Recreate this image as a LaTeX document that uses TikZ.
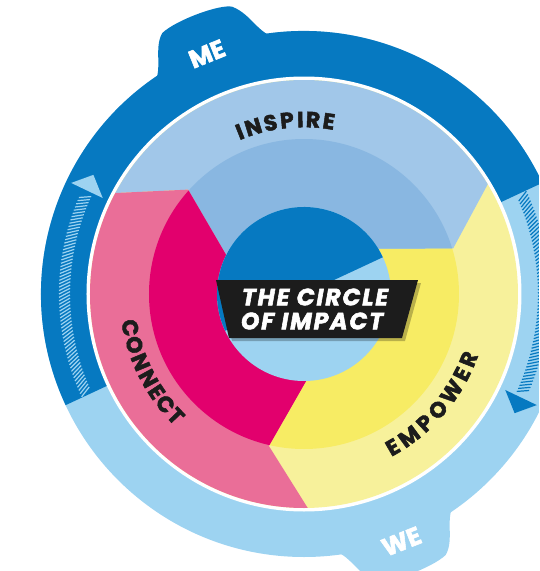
\documentclass[tikz,border=0pt]{standalone}
\usepackage{fontspec}
\setmainfont{Poppins}[BoldFeatures={FakeBold=2.2}]
\newfontfamily\labelfont{Poppins}[LetterSpace=8, BoldItalicFeatures={FakeBold=2.4}]
\usetikzlibrary{calc}
\definecolor{ringdark}{HTML}{0679C1}
\definecolor{ringlight}{HTML}{9DD3F1}
\definecolor{insout}{HTML}{A1C7E9}
\definecolor{insin}{HTML}{89B7E1}
\definecolor{conout}{HTML}{EA6E98}
\definecolor{conin}{HTML}{E2006D}
\definecolor{empout}{HTML}{F7F19B}
\definecolor{empin}{HTML}{F7EC64}
\definecolor{txtdark}{HTML}{1C1C1C}
\begin{document}
\begin{tikzpicture}[x=1pt,y=1pt,
  arcletter/.style={inner sep=0pt, font=\fontsize{22}{22}\selectfont\bfseries, text=txtdark},
  bumptext/.style={inner sep=0pt, font=\fontsize{25}{25}\selectfont\bfseries, text=white},
  labeltext/.style={inner sep=0pt, font=\labelfont\fontsize{23.5}{23.5}\selectfont\bfseries\itshape, text=white},
  hatchL/.style={ringlight, line width=1.2pt},
  hatchR/.style={ringdark, line width=1.2pt}]
\useasboundingbox (-304,-277) rectangle (235,294);
\clip (-304,-277) rectangle (235,294);

% outer ring
\fill[ringlight] (0,0) circle[radius=263];
\fill[ringdark] (0,0) -- (25:263) arc[start angle=25,end angle=205,radius=263] -- cycle;
% bumps
\fill[ringdark] (96:258) .. controls (100:263) and (100.5:284) .. (104:296)
   .. controls (106:302) and (115:302.5) .. (118.5:297)
   .. controls (121.5:288) and (122:266) .. (125.5:258) -- cycle;
\begin{scope}[rotate=180]
\fill[ringlight] (96:258) .. controls (100:263) and (100.5:284) .. (104:296)
   .. controls (106:302) and (115:302.5) .. (118.5:297)
   .. controls (121.5:288) and (122:266) .. (125.5:258) -- cycle;
\end{scope}

% hatched arrows
\foreach \a in {155.4,156.2,...,204.2} \draw[hatchL] (\a:234) -- (\a+1.4:245);
\fill[ringlight] (154.5:223) -- (150.5:242) -- (154.5:258) -- cycle;
\begin{scope}[rotate=180]
\foreach \a in {155.4,156.2,...,204.2} \draw[hatchR] (\a:234) -- (\a+1.4:245);
\fill[ringdark] (154.5:223) -- (150.5:242) -- (154.5:258) -- cycle;
\end{scope}

% white separator and inner disk
\fill[white] (0,0) circle[radius=217.5];
\fill[empout] (0,0) circle[radius=214];
\fill[empin] (0,0) circle[radius=155];

\coordinate (TP) at (138:156); \coordinate (OP) at (152:215); \coordinate (IP) at (153:88);
\coordinate (TB) at (17:156);  \coordinate (OB) at (31:215);  \coordinate (IB) at (31:88);
\coordinate (TY) at (257:156); \coordinate (OY) at (271:214); \coordinate (IY) at (271:88);

% INSPIRE segment
\begin{scope}
\clip (0,0) -- ($(TB)!1.6!(IB)$) -- (TB) -- ($(TB)!1.6!(OB)$) -- (35:300) -- (90:300) -- (150:300)
  -- ($(TP)!1.6!(OP)$) -- (TP) -- ($(TP)!1.6!(IP)$) -- cycle;
\fill[insout] (0,0) circle[radius=214];
\fill[insin] (0,0) circle[radius=155];
\end{scope}
% CONNECT segment
\begin{scope}
\clip (0,0) -- ($(TP)!1.6!(IP)$) -- (TP) -- ($(TP)!1.6!(OP)$) -- (160:300) -- (210:300) -- (260:300)
  -- ($(TY)!1.6!(OY)$) -- (TY) -- ($(TY)!1.6!(IY)$) -- cycle;
\fill[conout] (0,0) circle[radius=214];
\fill[conin] (0,0) circle[radius=155];
\end{scope}

% centre circle
\fill[ringlight] (0,0) circle[radius=87];
\fill[ringdark] (0,0) -- (25:87) arc[start angle=25,end angle=205,radius=87] -- cycle;

% label
\fill[black, opacity=.25] (-85,11) -- (117,11) -- (101,-47) -- (-72,-47) -- cycle;
\fill[txtdark] (-88,14) -- (114,14) -- (98,-44) -- (-75,-44) -- cycle;
\node[labeltext] (l1) at (11,-3) {THE CIRCLE};
\node[labeltext] (l2) at (8,-27) {OF IMPACT};

% ring labels
\node[bumptext, rotate=22] (me) at (112:259) {ME};
\node[bumptext, rotate=21.5] (we) at (-68.5:266) {WE};

% curved labels
\foreach \ch/\a [count=\i] in {I/111.6, N/106.9, S/101.1, P/95.6, I/91.2, R/87.0, E/81.8}
  \node[arcletter, rotate=\a-90] (ins\i) at (\a:174.5) {\ch};
\foreach \ch/\a [count=\i] in {C/191, O/196.7, N/202.6, N/208.5, E/213.6, C/218.5, T/223.6}
  \node[arcletter, rotate=\a+90] (con\i) at (\a:177) {\ch};
\foreach \ch/\a [count=\i] in {E/-59.9, M/-53.6, P/-46.9, O/-40.8, W/-33.5, E/-26.9, R/-21.6}
  \node[arcletter, rotate=\a+90] (emp\i) at (\a:177) {\ch};
\end{tikzpicture}
\end{document}
